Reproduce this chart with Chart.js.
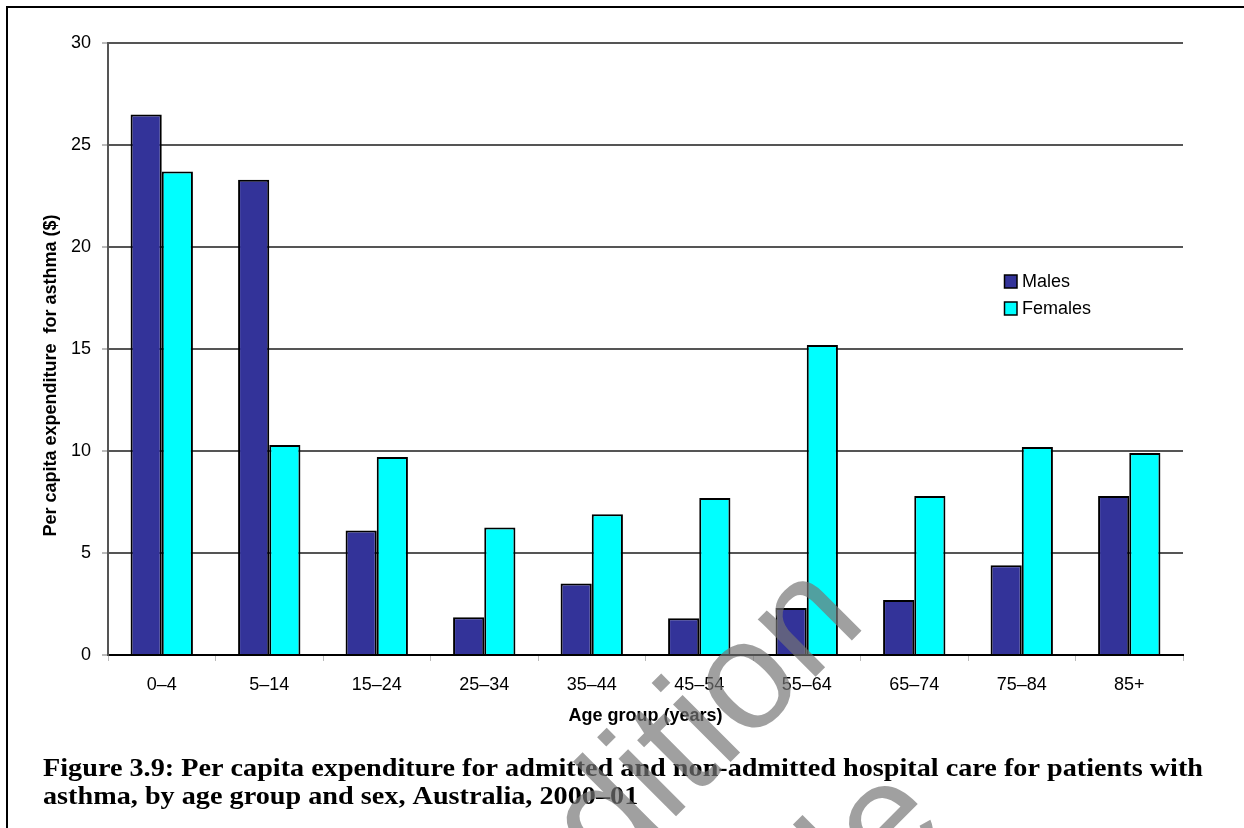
<!DOCTYPE html>
<html>
<head>
<meta charset="utf-8">
<script src="https://cdn.jsdelivr.net/npm/chart.js@4"></script>
<style>
  html, body { margin: 0; padding: 0; background: #fff; }
  #wrap { position: relative; width: 1244px; height: 828px; overflow: hidden; }
  #frame { position: absolute; left: 6px; top: 6px; right: -10px; bottom: -10px;
           border-top: 2px solid #000; border-left: 2px solid #000; pointer-events: none; }
  #chart { position: absolute; left: 0; top: 0; }
</style>
</head>
<body>
<div id="wrap">
  <canvas id="chart" width="1244" height="828"></canvas>
  <div id="frame"></div>
</div>
<script>
// Data
const ageGroups = ['0–4', '5–14', '15–24', '25–34', '35–44', '45–54', '55–64', '65–74', '75–84', '85+'];
const males = [26.5, 23.3, 6.1, 1.85, 3.5, 1.8, 2.3, 2.7, 4.4, 7.8];
const females = [23.7, 10.3, 9.7, 6.25, 6.9, 7.7, 15.2, 7.8, 10.2, 9.9];
const yMin = 0, yMax = 30, yStep = 5;

const yTitle = 'Per capita expenditure  for asthma ($)';
const xTitle = 'Age group (years)';
const captionLines = [
  'Figure 3.9: Per capita expenditure for admitted and non-admitted hospital care for patients with',
  'asthma, by age group and sex, Australia, 2000–01'
];

const SANS = 'Arial, "Liberation Sans", sans-serif';

// Legend, y title, caption and watermark drawn on the same canvas
const extras = {
  id: 'extras',
  afterDraw(chart) {
    const ctx = chart.ctx;

    // y axis title (sits a little below the plot centre in the original)
    ctx.save();
    ctx.translate(51.5, 375.5);
    ctx.rotate(-Math.PI / 2);
    ctx.font = 'bold 18px ' + SANS;
    ctx.fillStyle = '#000';
    ctx.textAlign = 'center';
    ctx.textBaseline = 'middle';
    ctx.fillText(yTitle, 0, 0);
    ctx.restore();

    // legend
    ctx.save();
    ctx.font = '18px ' + SANS;
    ctx.textBaseline = 'middle';
    chart.data.datasets.forEach((ds, i) => {
      const y = 275 + i * 27;
      ctx.fillStyle = ds.backgroundColor;
      ctx.fillRect(1004.5, y, 12.5, 13);
      ctx.lineWidth = 1.5;
      ctx.strokeStyle = '#000';
      ctx.strokeRect(1004.5, y, 12.5, 13);
      ctx.fillStyle = '#000';
      ctx.fillText(ds.label, 1022, y + 7);
    });
    ctx.restore();

    // caption
    ctx.save();
    ctx.font = 'bold 26px "Liberation Serif", "Times New Roman", serif';
    ctx.fillStyle = '#000';
    ctx.textBaseline = 'alphabetic';
    const w = ctx.measureText(captionLines[0]).width;
    const sx = 1160 / w;
    captionLines.forEach((line, i) => {
      ctx.save();
      ctx.translate(43, 776 + i * 28);
      ctx.scale(sx, 1);
      ctx.fillText(line, 0, 0);
      ctx.restore();
    });
    ctx.restore();

    // faint diagonal watermark
    ctx.save();
    ctx.fillStyle = 'rgba(117,117,117,0.69)';
    ctx.font = '154px ' + SANS;
    ctx.textBaseline = 'alphabetic';
    ctx.translate(547.7, 944.7);
    ctx.rotate(-Math.PI / 4);
    ctx.fillText('edition', 0, 0);
    ctx.translate(0, 200);
    ctx.fillText('le', 248, 0);
    ctx.restore();
  }
};

new Chart(document.getElementById('chart'), {
  type: 'bar',
  data: {
    labels: ageGroups,
    datasets: [
      { label: 'Males', data: males, backgroundColor: '#333399', borderColor: '#000', borderWidth: 2 },
      { label: 'Females', data: females, backgroundColor: '#00FFFF', borderColor: '#000', borderWidth: 2 }
    ]
  },
  options: {
    responsive: false,
    animation: false,
    events: [],
    layout: { padding: { left: 0, top: 43, right: 61, bottom: 93 } },
    datasets: { bar: { barPercentage: 1, categoryPercentage: 0.58 } },
    plugins: {
      legend: { display: false },
      tooltip: { enabled: false },
      title: { display: false }
    },
    scales: {
      x: {
        grid: { display: true, drawOnChartArea: false, offset: true, tickLength: 6, tickColor: '#bbb', lineWidth: 1 },
        border: { color: '#000', width: 2 },
        ticks: { color: '#000', font: { family: SANS, size: 18 }, padding: 13, maxRotation: 0 },
        title: { display: true, text: xTitle, color: '#000', font: { family: SANS, size: 18, weight: 'bold' }, padding: { top: 0, bottom: 8 } },
        afterFit(scale) { scale.height = 80; }
      },
      y: {
        min: yMin,
        max: yMax,
        grid: { color: '#555', lineWidth: 2, tickLength: 6, tickColor: '#bbb' },
        border: { color: '#555', width: 2 },
        ticks: { stepSize: yStep, color: '#000', font: { family: SANS, size: 18 }, padding: 11 },
        afterFit(scale) { scale.width = 108; }
      }
    }
  },
  plugins: [extras]
});
</script>
</body>
</html>
